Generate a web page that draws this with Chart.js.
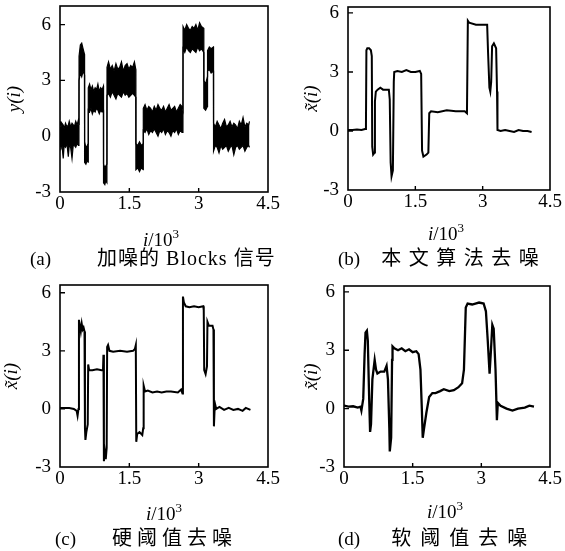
<!DOCTYPE html>
<html><head><meta charset="utf-8">
<script src="https://cdn.jsdelivr.net/npm/chart.js@4.4.1/dist/chart.umd.min.js"></script>
<style>
body{margin:0;background:#fff;width:565px;height:551px;position:relative;overflow:hidden;font-family:"Liberation Serif","Noto Sans CJK SC",serif;color:#000;}
canvas{position:absolute;}
.t{position:absolute;font-size:19px;line-height:22px;white-space:nowrap;}
.xt{transform:translateX(-50%);}
.cap{position:absolute;font-size:19px;line-height:22px;white-space:nowrap;}
</style></head><body>
<canvas id="ca" width="282" height="280" style="left:0;top:0"></canvas>
<canvas id="cb" width="283" height="280" style="left:282px;top:0"></canvas>
<canvas id="cc" width="282" height="271" style="left:0;top:280px"></canvas>
<canvas id="cd" width="283" height="271" style="left:282px;top:280px"></canvas>

<div class="t xt" style="left:161px;top:229px"><i>i</i>/10<span style="font-size:13px;position:relative;top:-8px">3</span></div>
<div class="t xt" style="left:446px;top:223px"><i>i</i>/10<span style="font-size:13px;position:relative;top:-8px">3</span></div>
<div class="t xt" style="left:164px;top:503px"><i>i</i>/10<span style="font-size:13px;position:relative;top:-8px">3</span></div>
<div class="t xt" style="left:445px;top:501px"><i>i</i>/10<span style="font-size:13px;position:relative;top:-8px">3</span></div>

<div class="cap" style="left:30px;top:247px">(a)<span style="margin-left:46px;font-size:20px;letter-spacing:1px">加噪的 Blocks 信号</span></div>
<div class="cap" style="left:338px;top:247px">(b)<span style="margin-left:21px;font-size:20px;letter-spacing:7.5px">本文算法去噪</span></div>
<div class="cap" style="left:55px;top:527px">(c)<span style="margin-left:36px;font-size:20px;letter-spacing:5px">硬阈值去噪</span></div>
<div class="cap" style="left:338px;top:527px">(d)<span style="margin-left:31px;font-size:20px;letter-spacing:9px">软阈值去噪</span></div>

<script>
// Tick values and labels
const xTicks = [0, 1.5, 3, 4.5];
const xTickLabels = ['0', '1.5', '3', '4.5'];
const yTicks = [-3, 0, 3, 6];
const yTickLabels = ['-3', '0', '3', '6'];

// (a) noisy Blocks signal: upper and lower envelope of the noise band (i in thousands)
const xa = [
  0.00,0.02,0.04,0.07,0.09,0.12,0.15,0.18,0.20,0.23,0.26,0.29,0.31,0.34,0.37,0.40,0.41,
  0.412,0.44,0.47,0.50,0.53,
  0.532,0.56,0.59,0.61,
  0.612,0.64,0.67,0.70,0.73,0.76,0.79,0.82,0.85,0.88,0.91,0.94,
  0.942,0.97,0.99,1.015,
  1.017,1.05,1.09,1.13,1.17,1.21,1.25,1.29,1.33,1.37,1.41,1.45,1.49,1.53,1.57,1.61,1.64,
  1.642,1.68,1.72,1.76,1.80,
  1.802,1.84,1.88,1.92,1.96,2.00,2.04,2.08,2.12,2.16,2.20,2.24,2.28,2.32,2.36,2.40,2.44,2.48,2.52,2.56,2.60,2.64,2.66,
  2.662,2.70,2.74,2.78,2.82,2.86,2.90,2.94,2.98,3.02,3.06,3.11,
  3.112,3.15,3.19,
  3.192,3.23,3.27,3.32,
  3.322,3.36,3.40,3.44,3.48,3.52,3.56,3.60,3.64,3.68,3.72,3.76,3.80,3.84,3.88,3.92,3.96,4.00,4.04,4.08,4.10
];
const yaHi = [
  0.8,0.5,0.7,0.6,0.4,0.7,0.5,0.6,0.8,0.5,0.7,0.6,0.5,0.8,0.6,0.9,0.6,
  4.3,4.9,5.0,4.7,4.4,
  -0.3,-0.6,-0.5,-0.4,
  2.6,2.8,2.5,2.7,2.4,2.6,2.5,2.8,2.4,2.6,2.5,2.7,
  -1.5,-1.7,-1.6,-1.5,
  3.7,4.0,3.6,3.8,3.5,3.9,3.6,3.7,4.0,3.5,3.8,3.9,3.6,3.8,3.7,4.0,3.6,
  -0.4,-0.5,-0.3,-0.5,-0.4,
  1.5,1.7,1.4,1.6,1.5,1.3,1.6,1.4,1.7,1.5,1.4,1.6,1.3,1.5,1.7,1.4,1.5,1.6,1.3,1.5,1.7,1.6,1.4,
  5.9,5.7,6.0,5.8,5.7,5.9,5.8,6.0,5.7,6.1,5.9,5.8,
  3.0,2.8,3.2,
  4.6,4.8,4.7,4.8,
  0.7,0.5,0.8,0.6,0.4,0.7,0.9,0.5,0.6,0.8,0.5,0.7,0.6,0.4,0.8,0.6,1.0,0.5,0.7,0.6,0.8
];
const yaLo = [
  -0.5,-0.6,-0.4,-1.2,-0.5,-0.6,-0.4,-1.1,-0.5,-0.6,-1.2,-0.4,-0.5,-0.6,-0.4,-0.5,-0.4,
  3.0,3.4,3.2,3.5,3.3,
  -1.4,-1.5,-1.3,-1.4,
  1.4,1.3,1.5,1.2,1.4,1.3,1.5,1.4,1.2,1.4,1.3,1.4,
  -2.5,-2.6,-2.4,-2.5,
  2.2,2.3,2.1,2.4,2.2,2.0,2.3,2.2,2.1,2.4,2.2,2.3,2.1,2.2,2.3,2.2,2.1,
  -1.8,-1.7,-1.9,-1.7,-1.8,
  0.3,0.2,0.4,0.1,0.3,0.2,0.4,0.2,0.0,0.3,0.2,0.4,0.1,0.3,0.2,0.0,0.3,0.2,0.4,0.1,0.3,0.2,0.3,
  4.7,4.5,4.8,4.6,4.5,4.7,4.6,4.5,4.8,4.6,4.7,4.5,
  1.5,1.4,1.6,
  3.5,3.6,3.4,3.5,
  -0.8,-0.5,-0.6,-0.9,-0.5,-0.7,-0.6,-0.5,-0.8,-0.6,-0.5,-1.0,-0.6,-0.5,-0.7,-0.6,-0.5,-0.8,-0.6,-0.5,-0.6
];

// (b) proposed method
const xb = [0,0.10,0.20,0.30,0.38,0.40,0.41,0.43,0.47,0.51,0.53,0.54,0.56,0.59,0.60,0.62,0.66,0.72,0.78,0.85,0.91,0.93,0.95,0.97,1.00,1.02,1.03,1.10,1.20,1.30,1.40,1.50,1.60,1.63,1.65,1.68,1.75,1.79,1.81,1.85,2.00,2.20,2.40,2.60,2.65,2.67,2.70,2.85,3.00,3.10,3.12,3.15,3.17,3.19,3.21,3.25,3.30,3.32,3.33,3.40,3.50,3.60,3.70,3.80,3.90,4.00,4.09];
const yb = [0.05,0.05,0.08,0.05,0.1,0.3,4.1,4.2,4.2,4.1,3.8,-0.8,-1.2,-1.1,1.5,2.0,2.1,2.2,2.1,2.1,2.1,1.6,-1.6,-2.3,-2.0,2.5,3.0,3.05,3.0,3.1,3.0,3.0,3.05,2.9,-1.0,-1.3,-1.2,-1.1,0.9,1.0,0.95,1.05,1.0,1.0,0.9,5.6,5.5,5.4,5.4,5.4,4.0,2.2,2.0,2.5,4.3,4.45,4.2,2.0,0.05,0.0,0.05,0.0,-0.05,0.05,0.0,0.0,-0.05];

// (c) hard threshold
const xc = [0,0.10,0.20,0.30,0.36,0.38,0.40,0.41,0.43,0.45,0.47,0.49,0.51,0.53,0.54,0.55,0.57,0.60,0.61,0.63,0.70,0.80,0.90,0.93,0.94,0.95,0.97,0.99,1.01,1.02,1.04,1.07,1.15,1.30,1.45,1.58,1.62,1.64,1.65,1.67,1.72,1.78,1.80,1.81,1.84,1.90,2.00,2.10,2.20,2.30,2.40,2.55,2.62,2.65,2.66,2.68,2.72,2.80,2.90,3.00,3.10,3.11,3.12,3.15,3.18,3.19,3.22,3.30,3.32,3.33,3.35,3.38,3.45,3.55,3.65,3.75,3.85,3.95,4.02,4.12];
const yc = [0.05,0.05,0.05,0.0,-0.1,-0.35,0.0,4.6,4.3,4.0,4.4,4.1,4.2,4.0,-1.0,-1.6,-1.2,-0.8,2.3,2.0,2.0,2.05,2.0,2.0,2.8,-2.7,-2.2,-2.6,-2.0,3.2,3.3,3.0,2.95,3.0,2.95,3.0,3.1,3.3,-1.7,-1.3,-1.2,-1.35,-1.0,1.2,0.9,0.95,0.85,0.9,0.85,0.9,0.9,0.85,1.0,0.8,5.8,5.5,5.3,5.25,5.3,5.25,5.3,5.1,2.0,1.8,2.2,4.5,4.3,4.3,4.1,-0.9,0.3,0.0,0.1,-0.05,0.05,-0.05,0.0,-0.1,0.05,-0.05];

// (d) soft threshold
const xd = [0,0.10,0.20,0.30,0.36,0.38,0.42,0.45,0.47,0.50,0.52,0.55,0.57,0.59,0.62,0.67,0.70,0.73,0.80,0.88,0.93,0.96,0.99,1.00,1.03,1.05,1.06,1.10,1.18,1.26,1.34,1.42,1.50,1.58,1.63,1.67,1.70,1.72,1.75,1.80,1.86,1.93,2.00,2.10,2.18,2.30,2.40,2.50,2.58,2.62,2.66,2.70,2.80,2.95,3.05,3.10,3.14,3.18,3.21,3.24,3.27,3.31,3.34,3.36,3.42,3.55,3.68,3.80,3.95,4.05,4.15];
const yd = [0.15,0.1,0.12,0.05,0.1,-0.1,0.5,2.8,3.9,4.0,3.5,0.5,-1.2,-0.8,1.5,2.5,2.0,1.8,1.9,1.9,2.2,1.5,-1.0,-2.2,-1.5,2.5,3.2,3.1,3.0,3.1,2.95,3.05,2.9,2.95,2.8,2.0,0.0,-1.5,-1.0,-0.2,0.6,0.8,0.8,0.9,1.0,0.9,0.95,1.1,1.3,2.0,5.2,5.4,5.35,5.45,5.4,5.0,3.5,1.8,3.0,4.3,4.1,2.0,-0.6,0.3,0.15,0.0,-0.1,0.0,0.05,0.15,0.1];

const pts = (xs, ys) => xs.map((x, i) => ({x: x, y: ys[i]}));

const framePlugin = {
  id: 'frame',
  afterDatasetsDraw(chart) {
    const {ctx, chartArea: a, scales: {x, y}} = chart;
    ctx.save();
    ctx.strokeStyle = '#000';
    ctx.lineWidth = 1.6;
    ctx.strokeRect(a.left, a.top, a.right - a.left, a.bottom - a.top);
    ctx.lineWidth = 1.4;
    ctx.beginPath();
    yTicks.forEach(v => { const p = y.getPixelForValue(v); if (p > a.top + 3 && p < a.bottom - 3) { ctx.moveTo(a.left, p); ctx.lineTo(a.left + 5, p); } });
    xTicks.forEach(v => { const p = x.getPixelForValue(v); if (p > a.left + 3 && p < a.right - 3) { ctx.moveTo(p, a.bottom); ctx.lineTo(p, a.bottom - 4); } });
    ctx.stroke();
    ctx.restore();
  }
};

const tickFont = {family: 'Liberation Serif', size: 19};

function makeChart(id, datasets, yMax, yTitle, pad, yW, titlePad) {
  return new Chart(document.getElementById(id), {
    type: 'line',
    data: {datasets: datasets},
    options: {
      responsive: false, animation: false, devicePixelRatio: 1,
      layout: {padding: pad},
      plugins: {legend: {display: false}, tooltip: {enabled: false}, title: {display: false}},
      elements: {point: {radius: 0}, line: {tension: 0}},
      scales: {
        x: {
          type: 'linear', min: 0, max: 4.5,
          afterBuildTicks: s => { s.ticks = xTicks.map(v => ({value: v})); },
          afterFit: s => { s.height = 30; s.paddingLeft = 0; s.paddingRight = 0; s.paddingTop = 0; s.paddingBottom = 0; },
          grid: {display: false, drawTicks: false},
          border: {display: false},
          ticks: {font: tickFont, color: '#000', padding: 1, maxRotation: 0, autoSkip: false,
                  callback: (v, i) => xTickLabels[i]}
        },
        y: {
          type: 'linear', min: -3, max: yMax,
          afterBuildTicks: s => { s.ticks = yTicks.map(v => ({value: v})); },
          afterFit: s => { s.width = yW; s.paddingLeft = 0; s.paddingRight = 0; s.paddingTop = 0; s.paddingBottom = 0; },
          grid: {display: false, drawTicks: false},
          border: {display: false},
          ticks: {font: tickFont, color: '#000', padding: 9, autoSkip: false,
                  callback: (v, i) => yTickLabels[i]},
          title: {display: true, text: yTitle, color: '#000',
                  font: {family: 'Liberation Serif', size: 19, style: 'italic'},
                  padding: {top: titlePad, bottom: 0}}
        }
      }
    },
    plugins: [framePlugin]
  });
}

const lineDs = (xs, ys, w) => ({data: pts(xs, ys), borderColor: '#000', borderWidth: w, fill: false, pointRadius: 0});

makeChart('ca', [
  {data: pts(xa, yaHi), borderColor: '#000', borderWidth: 1.2, fill: false, pointRadius: 0},
  {data: pts(xa, yaLo), borderColor: '#000', borderWidth: 1.2, fill: '-1', backgroundColor: '#000', pointRadius: 0}
], 7, 'y(i)', {left: 0, top: 6, right: 14, bottom: 58}, 60, 4);

makeChart('cb', [lineDs(xb, yb, 2)], 6.3, 'x\u0303(i)', {left: 15, top: 7, right: 15, bottom: 60}, 51, 4);
makeChart('cc', [lineDs(xc, yc, 2)], 6.4, 'x\u0303(i)', {left: 0, top: 5, right: 14, bottom: 54}, 60, 1);
makeChart('cd', [lineDs(xd, yd, 2.3)], 6.3, 'x\u0303(i)', {left: 15, top: 6, right: 15, bottom: 54}, 47, 4);
</script>
</body></html>
